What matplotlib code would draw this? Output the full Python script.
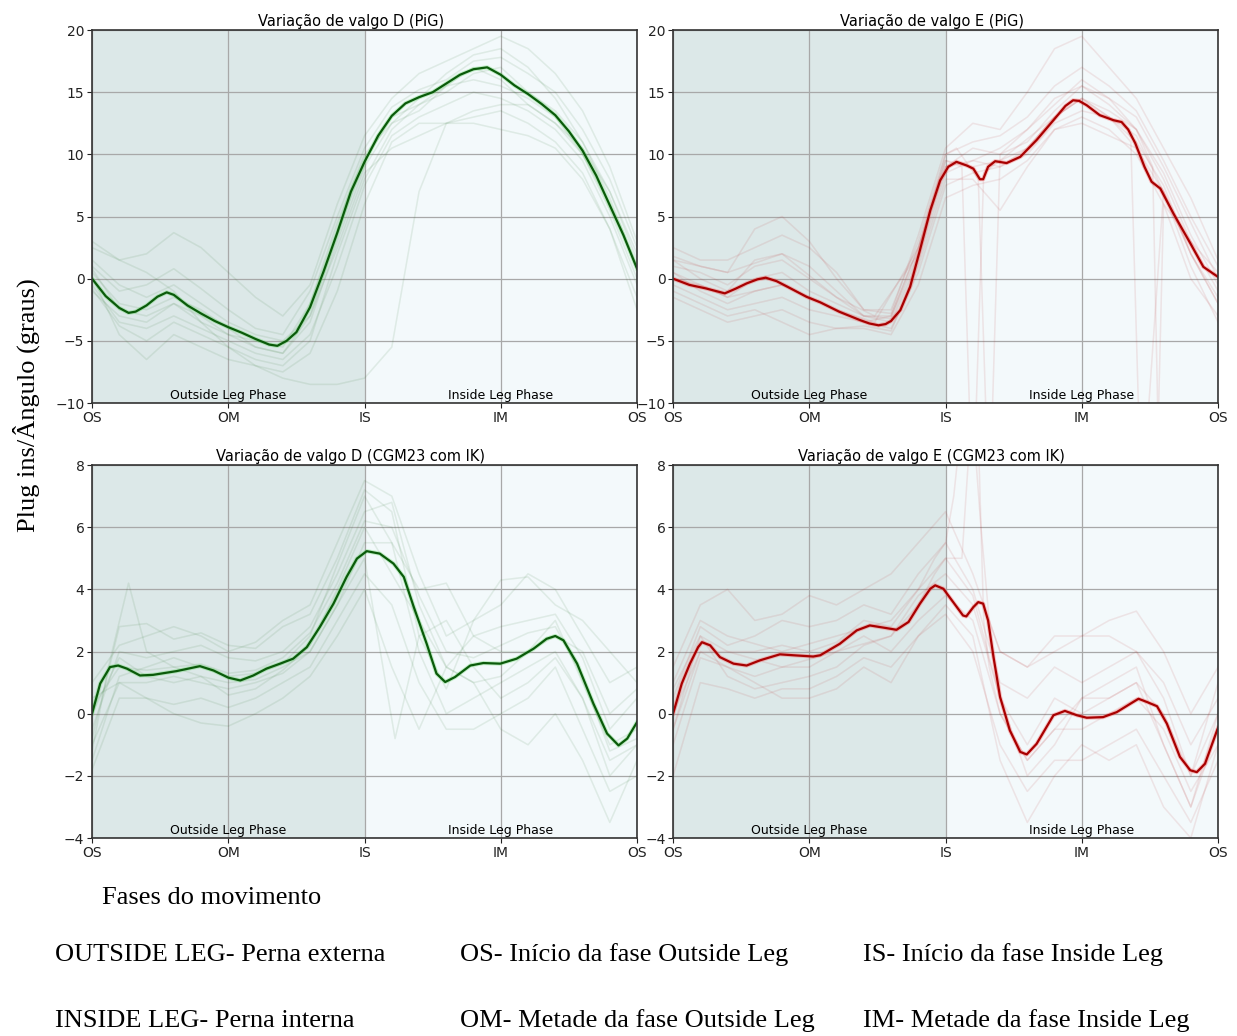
import matplotlib
matplotlib.use("Agg")
import matplotlib.pyplot as plt
import matplotlib.transforms as mtransforms

# phase markers along the movement cycle (% of cycle)
phase_ticks = [0, 25, 50, 75, 100]
phase_labels = ["OS", "OM", "IS", "IM", "OS"]
trial_x = list(range(0, 101, 5))

# ---- Variação de valgo D (PiG) ----
d_pig_mean_x = [0, 2.5, 5, 6.7, 8, 10, 12, 13.7, 15, 17.5, 20, 22.5, 25, 27.5, 30, 32.5, 34, 35.7,
                37.5, 40, 42.5, 45, 47.5, 50, 52.5, 55, 57.5, 60, 62.5, 65, 67.5, 70, 72.5, 75,
                77.5, 80, 82.5, 85, 87.5, 90, 92.5, 95, 97.5, 100]
d_pig_mean_y = [0.0, -1.4, -2.35, -2.75, -2.65, -2.15, -1.45, -1.1, -1.3, -2.15, -2.8, -3.4, -3.9,
                -4.35, -4.85, -5.3, -5.4, -5.0, -4.3, -2.3, 0.6, 3.7, 7.0, 9.4, 11.5, 13.1, 14.1,
                14.6, 15.0, 15.7, 16.4, 16.85, 17.0, 16.4, 15.55, 14.85, 14.05, 13.15, 11.85,
                10.3, 8.3, 5.9, 3.5, 0.8]
d_pig_trials = [
    [3.0, 1.5, 2.0, 3.7, 2.5, 0.5, -1.5, -3.0, -0.5, 6.0, 11.5, 14.5, 16.5, 17.5, 18.5, 19.5, 18.5, 16.5, 13.5, 9.0, 3.0],
    [1.0, -1.0, -0.5, 0.8, -0.8, -2.5, -4.0, -4.5, -1.0, 5.0, 10.5, 13.8, 15.2, 16.0, 17.5, 17.8, 16.5, 15.0, 12.0, 8.0, 2.5],
    [0.5, -2.0, -2.5, -1.5, -2.5, -4.0, -5.5, -6.0, -3.5, 3.0, 9.0, 12.5, 14.5, 16.5, 18.0, 18.5, 17.0, 14.5, 11.0, 7.0, 1.5],
    [-0.5, -3.5, -4.0, -3.0, -4.0, -5.0, -6.0, -6.5, -4.5, 1.0, 7.5, 11.5, 13.0, 14.0, 15.0, 14.5, 13.5, 12.0, 9.5, 5.0, -0.5],
    [0.2, -4.5, -6.5, -4.5, -5.5, -6.5, -7.0, -7.5, -6.0, -1.0, 6.0, 11.0, 12.5, 12.5, 13.0, 13.5, 12.5, 11.0, 8.5, 4.0, -2.5],
    [2.5, 1.5, 0.5, -1.0, -3.5, -5.5, -7.0, -8.0, -8.5, -8.5, -8.0, -5.5, 7.0, 12.5, 13.5, 14.0, 14.0, 12.5, 10.0, 6.0, 1.0],
    [-1.0, -3.0, -3.5, -2.0, -3.0, -4.5, -5.0, -5.5, -2.0, 4.5, 10.0, 12.5, 13.5, 15.5, 17.0, 16.0, 14.0, 12.5, 10.5, 7.0, 2.0],
    [1.5, -0.5, -1.5, -0.5, -2.0, -3.5, -4.5, -5.0, -3.0, 2.5, 8.5, 10.5, 11.5, 12.5, 12.5, 12.0, 11.5, 10.5, 8.0, 4.0, -1.5],
    [0.8, -2.5, -3.0, -2.0, -3.5, -4.5, -5.5, -6.0, -3.0, 3.5, 9.5, 13.0, 14.0, 15.0, 16.5, 17.0, 15.0, 13.5, 11.0, 6.5, 1.0],
    [-0.8, -3.8, -5.0, -3.5, -4.5, -5.5, -6.5, -7.0, -5.0, 2.0, 8.0, 12.0, 14.0, 15.5, 16.0, 15.5, 14.5, 13.0, 10.0, 5.5, 0.0],
]
d_pig_spikes = []

# ---- Variação de valgo E (PiG) ----
e_pig_mean_x = [0, 3, 6, 9.5, 11.5, 13.5, 15.5, 17, 19, 21, 24.5, 27, 30.5, 34.3, 36, 37.7, 39, 40,
                41.7, 43.5, 45.3, 47.2, 49, 50.5, 52, 53.9, 55.1, 56.3, 56.9, 57.8, 59.1, 61.2,
                63.7, 66.7, 69.8, 72, 73.4, 74.5, 75.9, 78.3, 80.8, 82.3, 83.5, 84.8, 86.5, 87.8,
                89.4, 91.8, 94.9, 97.3, 99.8, 100]
e_pig_mean_y = [0.0, -0.5, -0.78, -1.18, -0.8, -0.38, -0.05, 0.08, -0.2, -0.65, -1.46, -1.9, -2.66,
                -3.33, -3.6, -3.75, -3.65, -3.4, -2.53, -0.65, 2.3, 5.5, 7.9, 9.0, 9.4, 9.1, 8.85,
                8.0, 8.0, 9.0, 9.45, 9.3, 9.8, 11.15, 12.75, 13.9, 14.35, 14.3, 13.95, 13.15,
                12.75, 12.6, 12.0, 10.9, 9.0, 7.8, 7.25, 5.25, 2.85, 0.95, 0.2, 0.15]
e_pig_trials = [
    [2.5, 1.5, 1.5, 2.5, 3.5, 2.5, 0.5, -2.5, -2.5, 3.0, 10.0, 11.0, 11.5, 13.0, 15.5, 17.0, 15.5, 13.5, 9.5, 5.0, 1.0],
    [1.0, 0.5, -0.5, 1.0, 1.5, 0.0, -1.5, -3.0, -3.0, 2.5, 9.0, 10.5, 10.0, 11.0, 13.5, 15.5, 14.0, 12.0, 8.5, 3.5, -0.5],
    [-0.5, -1.5, -2.5, -2.0, -1.5, -2.5, -3.0, -3.5, -4.0, 0.5, 7.5, 8.5, 9.0, 10.0, 12.5, 13.5, 13.0, 11.5, 7.0, 2.0, -1.5],
    [-1.5, -2.5, -3.5, -3.0, -2.5, -3.5, -4.0, -4.0, -4.5, -0.5, 6.5, 7.5, 8.0, 9.5, 12.0, 13.0, 12.0, 10.0, 6.0, 0.0, -3.0],
    [0.5, -1.0, -2.0, -1.0, -0.5, -1.5, -2.5, -3.5, -3.0, 2.5, 9.5, 9.0, 9.5, 10.5, 13.0, 14.5, 13.0, 11.0, 7.5, 2.0, -2.0],
    [1.8, 1.0, 0.5, 4.0, 5.0, 3.0, 0.0, -2.5, -2.8, 3.5, 10.5, 12.5, 12.0, 15.0, 18.5, 19.5, 17.0, 14.5, 10.5, 6.5, 1.5],
    [-1.0, -2.0, -3.0, -2.5, -3.5, -4.5, -4.0, -3.8, -4.2, 1.0, 8.0, 8.0, 5.5, 9.0, 12.0, 12.5, 11.5, 10.5, 7.0, 1.0, -3.5],
    [0.0, -0.5, -1.5, 0.0, 0.5, -1.0, -2.0, -3.0, -3.5, 1.5, 8.5, 9.5, 9.0, 10.5, 13.0, 14.5, 13.5, 12.0, 8.0, 3.0, -1.0],
    [1.5, 0.0, -1.0, 1.5, 2.0, 1.0, -1.0, -3.0, -3.2, 2.0, 9.0, 9.5, 10.5, 12.0, 14.5, 15.5, 14.5, 13.0, 9.0, 4.5, 0.0],
]
e_pig_spikes = [
    ([0, 10, 20, 30, 37, 45, 50, 53, 54.5, 55.5, 57, 60, 70, 75, 80, 84, 85.5, 87, 90, 95, 100],
     [0.5, -1.5, -0.5, -2.5, -3.5, 2.5, 9.5, 9.0, -12, -12, 8.5, 9.5, 13.0, 14.5, 13.0, 11.0, -12, -12, 7.0, 2.0, -2.0]),
    ([0, 10, 20, 30, 37, 45, 50, 52, 56, 57.5, 58.5, 60, 70, 75, 80, 85, 88, 89, 90, 95, 100],
     [1.5, 0.5, 2.0, -1.5, -3.0, 2.0, 10.0, 10.5, 8.0, -12, -12, 10.0, 14.0, 16.0, 14.5, 12.0, 9.0, -12, 6.0, 3.0, 0.5]),
]

# ---- Variação de valgo D (CGM23 com IK) ----
d_cgm_mean_x = [0, 1.5, 3.3, 4.8, 6.4, 8.8, 11.2, 15.5, 19.8, 22.3, 25, 27.2, 29.6, 32, 34.5, 36.9,
                39.4, 41.8, 44.3, 46.7, 48.6, 50.4, 52.8, 55.3, 57.2, 59, 61.4, 63.2, 64.8, 66.6,
                69.4, 71.8, 74.9, 77.9, 81, 83.4, 85, 86.5, 89, 92, 94.5, 96.6, 98.2, 100]
d_cgm_mean_y = [0.0, 0.97, 1.5, 1.55, 1.45, 1.23, 1.25, 1.37, 1.53, 1.39, 1.16, 1.07, 1.23, 1.45,
                1.61, 1.77, 2.14, 2.79, 3.54, 4.4, 4.99, 5.23, 5.15, 4.83, 4.4, 3.45, 2.25, 1.29,
                1.02, 1.18, 1.55, 1.63, 1.61, 1.77, 2.09, 2.41, 2.5, 2.36, 1.61, 0.32, -0.64,
                -1.02, -0.8, -0.27]
d_cgm_trials = [
    [1.0, 2.2, 2.5, 2.8, 2.5, 2.0, 2.3, 3.0, 3.5, 5.5, 7.5, 7.0, 4.5, 2.5, 3.0, 3.5, 4.5, 4.0, 2.5, 1.0, 1.5],
    [-0.5, 2.0, 1.8, 2.0, 2.2, 1.8, 1.7, 2.0, 2.8, 4.5, 6.5, 6.8, 3.5, 1.5, 2.5, 2.8, 3.0, 3.2, 1.8, -0.5, 0.5],
    [-1.0, 1.0, 1.0, 1.2, 1.0, 0.8, 1.0, 1.3, 2.0, 3.5, 5.5, 5.5, 2.0, 0.0, 0.5, 1.0, 1.5, 2.0, 0.5, -1.5, -1.0],
    [-1.8, 0.5, 0.5, 0.3, 0.5, 0.2, 0.5, 1.0, 1.5, 3.0, 4.5, 3.5, 1.0, -0.5, -0.5, 0.0, 0.5, 1.5, -0.5, -2.5, -2.0],
    [0.5, 1.0, 0.5, 0.0, -0.3, -0.4, 0.0, 0.5, 1.2, 2.5, 4.0, 1.5, -0.5, 1.5, 1.0, -0.5, -1.0, 0.0, -1.5, -3.5, -1.5],
    [-1.5, 1.2, 1.5, 1.8, 1.5, 1.2, 1.3, 1.6, 2.5, 4.8, 7.0, 5.5, 4.0, 4.2, 2.5, 2.0, 2.0, 2.5, 2.0, 0.0, 0.8],
    [0.0, 1.8, 1.2, 1.0, 1.2, 0.6, 0.8, 1.4, 2.2, 4.0, 6.0, 4.5, 3.0, 1.5, 1.0, 1.2, 2.0, 3.0, 1.0, -1.0, -0.5],
    [-0.8, 2.8, 2.9, 2.4, 2.6, 2.2, 2.1, 2.8, 3.2, 5.0, 7.2, 6.5, 2.5, 0.8, 3.0, 4.3, 4.4, 3.5, 3.0, 2.0, 1.0],
    [0.2, 1.5, 1.4, 1.5, 1.6, 1.3, 1.4, 1.8, 2.6, 4.2, 6.2, 6.0, 3.8, 2.0, 1.8, 2.2, 2.6, 2.8, 1.2, -1.2, -0.8],
]
d_cgm_spikes = [
    ([0, 3, 6.7, 10, 15, 20, 25, 30, 35, 40, 45, 50, 55.6, 60, 65, 70, 75, 80, 85, 90, 95, 100],
     [-1.2, 1.5, 4.2, 2.0, 1.5, 1.2, 1.0, 1.1, 1.5, 2.0, 3.5, 5.0, -0.8, 2.5, 3.0, 1.5, 0.5, 1.0, 1.8, 0.5, -2.0, -1.0]),
]

# ---- Variação de valgo E (CGM23 com IK) ----
e_cgm_mean_x = [0, 1.6, 3.1, 4.6, 5.3, 6.8, 8.6, 11.1, 13.5, 16, 19.6, 22.1, 25.7, 27, 30.6, 33.7,
                36.1, 38.6, 41, 43.2, 45.3, 47.2, 48.1, 49.6, 51.4, 53.2, 53.8, 55.1, 56, 56.9,
                57.8, 58.8, 60, 61.8, 63.7, 64.9, 66.7, 69.8, 71.9, 74.1, 75.9, 78.9, 81.4, 83.9,
                85.4, 86.9, 88.8, 90.6, 93, 94.9, 96.1, 97.6, 99.8, 100]
e_cgm_mean_y = [0.0, 0.97, 1.61, 2.14, 2.3, 2.2, 1.82, 1.61, 1.55, 1.72, 1.91, 1.88, 1.84, 1.88,
                2.25, 2.68, 2.84, 2.77, 2.7, 2.95, 3.54, 4.02, 4.13, 4.02, 3.59, 3.16, 3.13, 3.43,
                3.59, 3.54, 3.0, 1.82, 0.54, -0.54, -1.23, -1.31, -0.97, -0.05, 0.09, -0.05,
                -0.13, -0.11, 0.05, 0.32, 0.48, 0.38, 0.24, -0.32, -1.39, -1.82, -1.88, -1.61,
                -0.54, -0.45]
e_cgm_trials = [
    [1.5, 3.5, 4.0, 3.0, 3.2, 3.8, 3.5, 4.0, 4.5, 5.5, 6.5, 4.5, 2.0, 1.5, 2.5, 2.5, 3.0, 3.3, 2.0, 0.0, 1.5],
    [0.5, 2.8, 2.2, 2.5, 3.0, 2.8, 3.0, 3.5, 3.2, 4.5, 5.5, 4.0, 1.0, 0.5, 1.5, 1.0, 1.5, 2.0, 1.0, -1.0, 0.5],
    [-1.0, 1.8, 1.5, 1.2, 1.5, 1.5, 2.0, 2.5, 2.0, 3.0, 3.8, 3.0, 0.0, -1.5, -0.5, -0.5, 0.0, 0.5, -0.5, -2.5, -1.0],
    [-2.0, 1.0, 0.8, 0.5, 0.8, 0.8, 1.2, 1.8, 1.5, 2.5, 3.2, 2.0, -1.0, -2.5, -1.5, -1.5, -1.0, -0.5, -2.0, -3.5, -1.5],
    [0.0, 2.0, 1.5, 1.0, 0.5, 0.5, 0.8, 1.5, 1.0, 2.5, 3.5, 2.5, -1.5, -3.5, -2.0, -1.0, -1.5, -1.0, -3.0, -4.0, -1.0],
    [-0.5, 2.5, 1.2, 0.8, 1.0, 1.2, 1.5, 2.2, 2.5, 3.8, 4.5, 3.5, 0.5, -2.0, -1.0, 0.5, 1.0, 1.5, -1.0, -3.0, 0.0],
    [0.8, 2.5, 2.0, 2.0, 2.2, 2.0, 2.3, 3.0, 2.8, 4.0, 5.0, 3.8, 0.5, -1.0, 0.5, 0.0, 0.5, 1.0, 0.0, -2.0, 0.0],
]
e_cgm_spikes = [
    ([0, 5, 10, 20, 30, 40, 45, 48, 50, 51.5, 53, 55, 56.5, 58, 60, 65, 70, 75, 80, 85, 90, 95, 100],
     [1.0, 3.0, 2.5, 2.0, 2.5, 3.0, 4.0, 5.0, 5.5, 7.0, 9.5, 9.5, 6.0, 3.0, 2.0, 1.5, 2.0, 2.5, 2.5, 2.0, 0.5, -2.0, 1.0]),
    ([0, 5, 10, 20, 30, 40, 45, 48, 50, 53, 54.5, 56, 57, 58, 60, 65, 70, 75, 80, 85, 90, 95, 100],
     [-0.5, 2.0, 2.0, 1.5, 2.0, 2.5, 3.5, 4.5, 5.0, 5.0, 9.0, 9.0, 3.0, 1.5, 0.0, -1.5, -0.5, 0.5, 0.5, 1.0, -1.0, -3.0, -0.5]),
]


def draw_panel(ax, title, mean_x, mean_y, trials, spikes, color, dark, glow, ylim, yticks):
    """shaded phases, single trials and the mean curve for one side/model"""
    ax.axvspan(0, 50, color="#dce8e8", lw=0, zorder=0)
    ax.axvspan(50, 100, color="#f3f9fb", lw=0, zorder=0)
    curves = [(trial_x, ys) for ys in trials] + spikes
    for xs, ys in curves:
        ax.plot(xs, ys, color=color, lw=1.2, alpha=0.06)
        ax.plot(xs, ys, color="0.45", lw=1.0, alpha=0.05)
    ax.plot(mean_x, mean_y, color=glow, lw=3.0, alpha=0.3)
    ax.plot(mean_x, mean_y, color=dark, lw=1.6)
    ax.set_xlim(0, 100)
    ax.set_ylim(*ylim)
    ax.set_yticks(yticks)
    ax.set_xticks(phase_ticks)
    ax.set_xticklabels(phase_labels)
    ax.tick_params(labelsize=10, colors="#222222", pad=2)
    ax.grid(True, color="#a8a8a8", lw=0.9)
    for sp in ax.spines.values():
        sp.set_color("#333333")
        sp.set_linewidth(1.2)
    ax.set_title(title, fontsize=10.5, x=0.475, pad=3)
    trans = mtransforms.blended_transform_factory(ax.transData, ax.transAxes)
    ax.text(25, 0.003, "Outside Leg Phase", transform=trans, ha="center", va="bottom", fontsize=9)
    ax.text(75, 0.003, "Inside Leg Phase", transform=trans, ha="center", va="bottom", fontsize=9)


fig = plt.figure(figsize=(12.37, 10.36), dpi=100)
ax1 = fig.add_axes([0.0744, 0.611, 0.4406, 0.360])
ax2 = fig.add_axes([0.5441, 0.611, 0.4406, 0.360])
ax3 = fig.add_axes([0.0744, 0.1911, 0.4406, 0.360])
ax4 = fig.add_axes([0.5441, 0.1911, 0.4406, 0.360])

draw_panel(ax1, "Variação de valgo D (PiG)", d_pig_mean_x, d_pig_mean_y, d_pig_trials, d_pig_spikes,
           "green", "#0a5a0a", "#4cd64c", (-10, 20), [-10, -5, 0, 5, 10, 15, 20])
draw_panel(ax2, "Variação de valgo E (PiG)", e_pig_mean_x, e_pig_mean_y, e_pig_trials, e_pig_spikes,
           "red", "#a80000", "#ff4040", (-10, 20), [-10, -5, 0, 5, 10, 15, 20])
draw_panel(ax3, "Variação de valgo D (CGM23 com IK)", d_cgm_mean_x, d_cgm_mean_y, d_cgm_trials,
           d_cgm_spikes, "green", "#0a5a0a", "#4cd64c", (-4, 8), [-4, -2, 0, 2, 4, 6, 8])
draw_panel(ax4, "Variação de valgo E (CGM23 com IK)", e_cgm_mean_x, e_cgm_mean_y, e_cgm_trials,
           e_cgm_spikes, "red", "#a80000", "#ff4040", (-4, 8), [-4, -2, 0, 2, 4, 6, 8])

# side and bottom captions
serif = "Liberation Serif"
fig.text(0.021, 0.609, "Plug ins/Ângulo (graus)", rotation=90, ha="center", va="center",
         family=serif, fontsize=19)
fig.text(102 / 1237, 1 - 898 / 1036, "Fases do movimento", ha="left", va="center",
         family=serif, fontsize=19)
legend_rows = [
    ["OUTSIDE LEG- Perna externa", "OS- Início da fase Outside Leg", "IS- Início da fase Inside Leg"],
    ["INSIDE LEG- Perna interna", "OM- Metade da fase Outside Leg", "IM- Metade da fase Inside Leg"],
]
col_px = [55, 460, 863]
row_px = [955, 1021]
for row, ypx in zip(legend_rows, row_px):
    for txt, xpx in zip(row, col_px):
        fig.text(xpx / 1237, 1 - ypx / 1036, txt, ha="left", va="center", family=serif, fontsize=19)

fig.savefig("out.png", dpi=100)
